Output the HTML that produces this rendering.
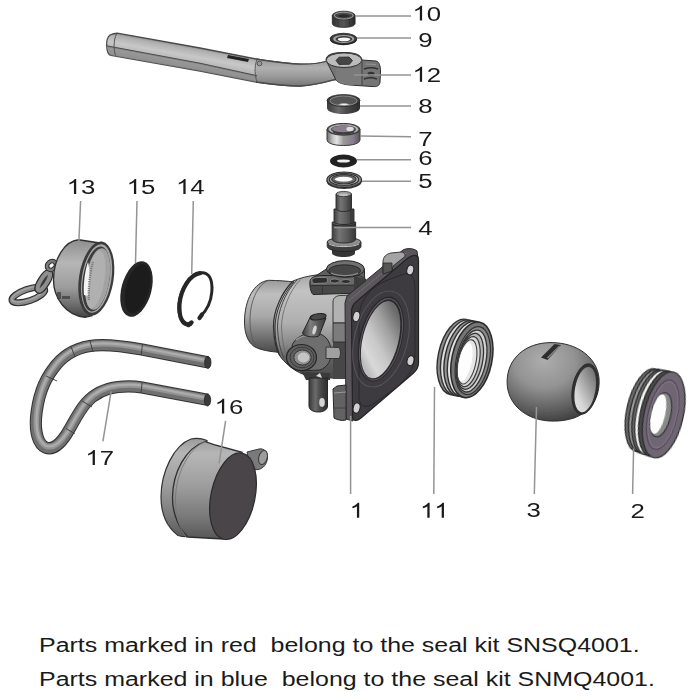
<!DOCTYPE html>
<html><head><meta charset="utf-8">
<style>
html,body{margin:0;padding:0;background:#fff;width:700px;height:700px;overflow:hidden}
svg{display:block}
.lb{font-family:"Liberation Sans",sans-serif;font-size:20.8px;fill:#1a1a1a}
.ld{stroke:#949494;stroke-width:1.5;fill:none}
</style></head><body>
<svg width="700" height="700" viewBox="0 0 700 700">

<rect width="700" height="700" fill="#fff"/>


<defs>
<linearGradient id="gHandle" gradientUnits="userSpaceOnUse" x1="0" y1="-11" x2="0" y2="11">
 <stop offset="0" stop-color="#9a9a9a"/><stop offset="0.25" stop-color="#c9c9c9"/><stop offset="0.55" stop-color="#b5b5b5"/><stop offset="0.6" stop-color="#8e8e8e"/><stop offset="1" stop-color="#6a6a6a"/>
</linearGradient>
<linearGradient id="gCylV" x1="0" y1="0" x2="0" y2="1">
 <stop offset="0" stop-color="#8f8f8f"/><stop offset="0.3" stop-color="#c4c4c4"/><stop offset="0.7" stop-color="#9a9a9a"/><stop offset="1" stop-color="#5c5c5c"/>
</linearGradient>
<linearGradient id="gDarkV" x1="0" y1="0" x2="0" y2="1">
 <stop offset="0" stop-color="#555"/><stop offset="0.5" stop-color="#3e3e3e"/><stop offset="1" stop-color="#2a2a2a"/>
</linearGradient>
<linearGradient id="gDarkH" x1="0" y1="0" x2="1" y2="0">
 <stop offset="0" stop-color="#3a3a3a"/><stop offset="0.35" stop-color="#6a6a6a"/><stop offset="0.6" stop-color="#4a4a4a"/><stop offset="1" stop-color="#2e2e2e"/>
</linearGradient>
<linearGradient id="gLightH" x1="0" y1="0" x2="1" y2="0">
 <stop offset="0" stop-color="#8a8a8a"/><stop offset="0.3" stop-color="#e8e8e8"/><stop offset="0.6" stop-color="#c8c8c8"/><stop offset="1" stop-color="#7a7a7a"/>
</linearGradient>
<radialGradient id="gBall" cx="0.42" cy="0.28" r="0.82" fx="0.4" fy="0.22">
 <stop offset="0" stop-color="#adadad"/><stop offset="0.4" stop-color="#939393"/><stop offset="0.72" stop-color="#606060"/><stop offset="1" stop-color="#303030"/>
</radialGradient>
<linearGradient id="gBallBore" x1="0.8" y1="0" x2="0.2" y2="1">
 <stop offset="0" stop-color="#6a6a6a"/><stop offset="0.35" stop-color="#9a9a9a"/><stop offset="0.75" stop-color="#d6d6d6"/><stop offset="1" stop-color="#e2e2e2"/>
</linearGradient>
<linearGradient id="gBore2" x1="0" y1="0" x2="1" y2="0">
 <stop offset="0" stop-color="#444"/><stop offset="0.3" stop-color="#9a9a9a"/><stop offset="0.6" stop-color="#e0e0e0"/><stop offset="0.85" stop-color="#c0c0c0"/><stop offset="1" stop-color="#888"/>
</linearGradient>
<linearGradient id="gBodyU" gradientUnits="userSpaceOnUse" x1="0" y1="275" x2="0" y2="380">
 <stop offset="0" stop-color="#a8a8a8"/><stop offset="0.15" stop-color="#c2c2c2"/><stop offset="0.45" stop-color="#b0b0b0"/><stop offset="0.65" stop-color="#8a8a8a"/><stop offset="0.8" stop-color="#606060"/><stop offset="1" stop-color="#484848"/>
</linearGradient>
<linearGradient id="gPipe" gradientUnits="userSpaceOnUse" x1="0" y1="280" x2="0" y2="353">
 <stop offset="0" stop-color="#9a9a9a"/><stop offset="0.2" stop-color="#bebebe"/><stop offset="0.5" stop-color="#a8a8a8"/><stop offset="0.75" stop-color="#777"/><stop offset="1" stop-color="#4a4a4a"/>
</linearGradient>
<linearGradient id="gBore3" x1="0.7" y1="0.1" x2="0.3" y2="0.9">
 <stop offset="0" stop-color="#6a6a6a"/><stop offset="0.3" stop-color="#a0a0a0"/><stop offset="0.6" stop-color="#c8c8c8"/><stop offset="0.85" stop-color="#d8d8d8"/><stop offset="1" stop-color="#bdbdbd"/>
</linearGradient>
<linearGradient id="gStem" x1="0" y1="0" x2="1" y2="0">
 <stop offset="0" stop-color="#404040"/><stop offset="0.3" stop-color="#747474"/><stop offset="0.6" stop-color="#5e5e5e"/><stop offset="1" stop-color="#363636"/>
</linearGradient>
<linearGradient id="gCap2" gradientUnits="userSpaceOnUse" x1="0" y1="438" x2="0" y2="542">
 <stop offset="0" stop-color="#9a9a9a"/><stop offset="0.15" stop-color="#b6b6b6"/><stop offset="0.45" stop-color="#9e9e9e"/><stop offset="0.75" stop-color="#7a7a7a"/><stop offset="1" stop-color="#525252"/>
</linearGradient>
<linearGradient id="gHandleL" gradientUnits="userSpaceOnUse" x1="164" y1="41" x2="160" y2="63.5">
 <stop offset="0" stop-color="#8e8e8e"/><stop offset="0.15" stop-color="#b0b0b0"/><stop offset="0.45" stop-color="#c8c8c8"/><stop offset="0.7" stop-color="#b8b8b8"/><stop offset="1" stop-color="#999"/>
</linearGradient>
<linearGradient id="gHandleR" gradientUnits="userSpaceOnUse" x1="0" y1="62" x2="0" y2="86">
 <stop offset="0" stop-color="#a0a0a0"/><stop offset="0.25" stop-color="#b0b0b0"/><stop offset="0.6" stop-color="#9a9a9a"/><stop offset="1" stop-color="#777"/>
</linearGradient>
<linearGradient id="gPin" x1="0" y1="0" x2="1" y2="0">
 <stop offset="0" stop-color="#3e3e3e"/><stop offset="0.35" stop-color="#7e7e7e"/><stop offset="0.7" stop-color="#555"/><stop offset="1" stop-color="#3a3a3a"/>
</linearGradient>
<linearGradient id="gRing" x1="0" y1="0" x2="0" y2="1">
 <stop offset="0" stop-color="#8e8e8e"/><stop offset="0.3" stop-color="#b6b6b6"/><stop offset="0.62" stop-color="#9c9c9c"/><stop offset="0.85" stop-color="#6a6a6a"/><stop offset="1" stop-color="#444"/>
</linearGradient>
<linearGradient id="gBear" x1="0" y1="0" x2="1" y2="0">
 <stop offset="0" stop-color="#6e6e6e"/><stop offset="0.18" stop-color="#c4c4c4"/><stop offset="0.3" stop-color="#e4e4e4"/><stop offset="0.5" stop-color="#9a9a9a"/><stop offset="0.8" stop-color="#867b8b"/><stop offset="1" stop-color="#555"/>
</linearGradient>
<linearGradient id="gNut" x1="0" y1="0" x2="1" y2="0">
 <stop offset="0" stop-color="#2e2e2e"/><stop offset="0.25" stop-color="#4a4a4a"/><stop offset="0.5" stop-color="#555"/><stop offset="0.75" stop-color="#3e3e3e"/><stop offset="1" stop-color="#2a2a2a"/>
</linearGradient>
<filter id="soft" x="-2%" y="-2%" width="104%" height="104%"><feGaussianBlur stdDeviation="0.45"/></filter>
<linearGradient id="gBore" x1="0" y1="0" x2="1" y2="0">
 <stop offset="0" stop-color="#555"/><stop offset="0.25" stop-color="#9a9a9a"/><stop offset="0.55" stop-color="#e6e6e6"/><stop offset="0.8" stop-color="#b0b0b0"/><stop offset="1" stop-color="#666"/>
</linearGradient>
<linearGradient id="gCap" x1="0" y1="0" x2="0" y2="1">
 <stop offset="0" stop-color="#a8a8a8"/><stop offset="0.3" stop-color="#c6c6c6"/><stop offset="0.7" stop-color="#9a9a9a"/><stop offset="1" stop-color="#5a5a5a"/>
</linearGradient>
<linearGradient id="gBody" x1="0" y1="0" x2="0" y2="1">
 <stop offset="0" stop-color="#a0a0a0"/><stop offset="0.25" stop-color="#c2c2c2"/><stop offset="0.6" stop-color="#adadad"/><stop offset="0.85" stop-color="#6a6a6a"/><stop offset="1" stop-color="#444"/>
</linearGradient>
<linearGradient id="gWire" gradientUnits="userSpaceOnUse" x1="0" y1="340" x2="0" y2="450">
 <stop offset="0" stop-color="#8a8a8a"/><stop offset="1" stop-color="#777"/>
</linearGradient>
</defs>

<g filter="url(#soft)">
<!-- ===== Handle (12) ===== -->
<g id="handle">
 <path d="M118.6 33.3 L200 48 L256 59 C275 62 290 64 300 64.2 C312 64.4 322 63 332 60 L337 79 C326 82 315 85.5 300 86 C288 86 270 84 256 82 L200 71 L111 55.3 C106 54.5 104.8 39 110 35 C113 33.5 115 33 118.6 33.3 Z" fill="url(#gHandleL)" stroke="#4a4a4a" stroke-width="1.3"/>
 <path d="M257.5 59.3 C275 62 290 64 300 64.2 C312 64.4 322 63 332 60 L337 79 C326 82 315 85.5 300 86 C288 86 270 84 257.5 82 C255.5 75 255.5 66 257.5 59.3 Z" fill="url(#gHandleR)"/>
 <path d="M256 59 C275 62 290 64 300 64.2 C312 64.4 322 63 332 60 M337 79 C326 82 315 85.5 300 86 C288 86 270 84 256 82" fill="none" stroke="#4a4a4a" stroke-width="1.3"/>
 <path d="M106 46 L200 63.5 L257 76" fill="none" stroke="#444" stroke-width="1.3"/>
 <path d="M106 46 L200 63.5 L257 76 L256 82 L200 71 L111 55.3 Z" fill="#8c8c8c" opacity="0.7"/>
 <path d="M116.5 34 C113.5 40 113.5 49 115.5 55.5" fill="none" stroke="#555" stroke-width="1"/>
 <path d="M257 59.5 C254 67 255 76 257 82" fill="none" stroke="#555" stroke-width="1"/>
 <circle cx="259.5" cy="63.5" r="2.3" fill="#9a9a9a" stroke="#444" stroke-width="0.8"/>
 <path d="M228 55 L249 59 L248 62 L227 58 Z" fill="#222"/>
 <!-- head -->
 <path d="M326 60 C326 54 334 52.5 344 52.5 C356 52.5 361.5 55 362 60 L376 61 C379.5 62 380.5 66 380.5 72 L380 82 C379.5 86 377 87 372 86.5 L350 85 C344 84.5 338 83 336 80 Z" fill="#757575" stroke="#2e2e2e" stroke-width="1"/>
 <path d="M336 66 C340 70 350 70 362 66 L362 84.5 L350 85 C344 84.5 338 83 336 80 Z" fill="#7a7a7a"/>
 <path d="M362 61 L362 85" stroke="#3a3a3a" stroke-width="0.9"/>
 <ellipse cx="344" cy="60.2" rx="17.8" ry="7.3" fill="#bcbcbc" stroke="#333" stroke-width="1"/>
 <path d="M336 60.5 L339 57.2 L349 57 L352.5 60.5 L349.5 64.3 L339 64.5 Z" fill="#444" stroke="#2a2a2a" stroke-width="0.8"/>
 <path d="M364 69 C368 67.5 374 67.5 378 69" fill="none" stroke="#333" stroke-width="1.6"/>
 <path d="M364 79 C368 77.5 373 77.5 377 79" fill="none" stroke="#333" stroke-width="1.6"/>
 <ellipse cx="371" cy="74" rx="3.5" ry="2.2" fill="#333"/>
 <path d="M366 64 L376 64.5" stroke="#999" stroke-width="0.8"/>
</g>

<!-- ===== Nut (10) ===== -->
<g id="p10">
 <path d="M332.3 15.5 L332.3 23.3 C332.3 26 337 27.4 343.7 27.4 C350.4 27.4 355.1 26 355.1 23.3 L355.1 15.5 Z" fill="url(#gNut)" stroke="#2a2a2a" stroke-width="0.8"/>
 <ellipse cx="343.7" cy="15.5" rx="11.4" ry="4.3" fill="#454545" stroke="#2a2a2a" stroke-width="0.8"/>
 <ellipse cx="343.7" cy="15.6" rx="9.3" ry="3.3" fill="#3a3a3a" stroke="#9c9c9c" stroke-width="1.1"/>
 <ellipse cx="343.7" cy="15.9" rx="6.6" ry="2.2" fill="#2a2a2a" stroke="#666" stroke-width="0.7"/>
 <path d="M338 19.5 V26.8 M349.5 19.5 V26.8" stroke="#2e2e2e" stroke-width="0.8"/>
</g>

<!-- ===== Washer (9) ===== -->
<g id="p9">
 <ellipse cx="343.5" cy="39.8" rx="13.4" ry="5.4" fill="#2a2a2a"/>
 <ellipse cx="343.5" cy="38.7" rx="13.4" ry="5.4" fill="#3a3a3a" stroke="#222" stroke-width="0.8"/>
 <ellipse cx="343.7" cy="38.9" rx="10.6" ry="4" fill="#a4a4a4"/>
 <ellipse cx="343.9" cy="39.1" rx="8.4" ry="3" fill="#3a3a3a"/>
 <ellipse cx="344" cy="39.3" rx="6.3" ry="1.9" fill="#f6f6f6"/>
</g>

<!-- ===== Bushing (8) ===== -->
<g id="p8">
 <path d="M327 100.5 V108 C327 111.5 334 114 343.5 114 C353 114 360 111.5 360 108 V100.5 Z" fill="url(#gDarkH)"/>
 <ellipse cx="343.5" cy="100.5" rx="16.5" ry="6" fill="#3c3c3c" stroke="#2a2a2a" stroke-width="0.8"/>
 <ellipse cx="343.5" cy="100.8" rx="13.6" ry="4.8" fill="#555" stroke="#8a8a8a" stroke-width="1"/>
 <path d="M338 104.3 C341 105.4 347 105.4 350 104.3 C347 103.2 341 103.2 338 104.3Z" fill="#f2f2f2"/>
</g>

<!-- ===== Bearing (7) ===== -->
<g id="p7">
 <path d="M327 129.3 V139.7 C327 143.3 334 145.5 343.5 145.5 C353 145.5 360 143.3 360 139.7 V129.3 Z" fill="url(#gBear)" stroke="#3a3a3a" stroke-width="1"/>
 <ellipse cx="343.5" cy="129.3" rx="16.5" ry="5.9" fill="#5a5a5a" stroke="#333" stroke-width="1"/>
 <ellipse cx="343.5" cy="129.3" rx="14.6" ry="5" fill="#b4b4b4"/>
 <ellipse cx="343.5" cy="129.5" rx="12.4" ry="4.1" fill="#3e3e3e"/>
 <ellipse cx="343.3" cy="129" rx="11.4" ry="3.3" fill="#8a7f8f"/>
 <ellipse cx="350" cy="129" rx="3.6" ry="2.2" fill="#e8e8e8" opacity="0.9"/>
 <path d="M333 131 C337 133.5 350 133.5 354 131 L354 132.5 C350 135 337 135 333 132.5 Z" fill="#3a3a3a"/>
</g>

<!-- ===== O-ring (6) ===== -->
<g id="p6">
 <ellipse cx="343.5" cy="161" rx="13.5" ry="6.4" fill="#242424"/>
 <ellipse cx="343.5" cy="161" rx="6.6" ry="1.6" fill="#f0f0f0"/>
</g>

<!-- ===== Seal (5) ===== -->
<g id="p5">
 <ellipse cx="344.2" cy="181.2" rx="17.6" ry="7.8" fill="#3a3a3a"/>
 <ellipse cx="344.2" cy="179.8" rx="17.3" ry="7.8" fill="#8e8e8e" stroke="#2e2e2e" stroke-width="1.2"/>
 <ellipse cx="344" cy="179.5" rx="14.6" ry="6.1" fill="#c4c4c4" stroke="#333" stroke-width="1.3"/>
 <ellipse cx="343.9" cy="179.3" rx="12.2" ry="4.7" fill="#6a6a6a" stroke="#333" stroke-width="1.1"/>
 <ellipse cx="343.7" cy="179.2" rx="9.4" ry="2.9" fill="#fafafa" stroke="#555" stroke-width="0.8"/>
 <path d="M330 183.5 C336 187 352 187 358 183.5" fill="none" stroke="#555" stroke-width="1"/>
</g>

<!-- ===== Stem (4) ===== -->
<g id="p4">
 <path d="M332 246 V253 C332 255.5 338 257 343.5 257 C349 257 355 255.5 355 253 V246 Z" fill="#353535"/>
 <path d="M327.2 242 V246.5 C327.2 249.5 335 251.5 344 251.5 C353 251.5 361 249.5 361 246.5 V242 Z" fill="#3c3c3c" stroke="#222" stroke-width="0.8"/>
 <ellipse cx="344.1" cy="242" rx="16.9" ry="4.6" fill="#8e8e8e" stroke="#2a2a2a" stroke-width="0.9"/>
 <path d="M329 244 C334 247.5 354 247.5 359 244" fill="none" stroke="#c8c8c8" stroke-width="1"/>
 <path d="M332.2 222 V239 C332.2 241.5 337.5 243 344 243 C350.5 243 355.6 241.5 355.6 239 V222 Z" fill="url(#gStem)" stroke="#262626" stroke-width="0.9"/>
 <path d="M332.4 224.5 C336 226.5 352 226.5 355.4 224.5" fill="none" stroke="#2a2a2a" stroke-width="1.4"/>
 <path d="M334 209 V221.5 C334 223.5 338.5 224.5 344 224.5 C349.5 224.5 354 223.5 354 221.5 V209 Z" fill="url(#gStem)" stroke="#262626" stroke-width="0.9"/>
 <path d="M350 210 L353.5 211 L353.5 223 L350 223.5 Z" fill="#3a3a3a"/>
 <path d="M336 194 V208.5 C336 210.5 340 211.5 343.8 211.5 C347.6 211.5 351.5 210.5 351.5 208.5 V194 Z" fill="url(#gStem)" stroke="#262626" stroke-width="0.9"/>
 <ellipse cx="343.8" cy="194" rx="7.7" ry="2.6" fill="#9a9a9a" stroke="#2e2e2e" stroke-width="0.8"/>
 <ellipse cx="343.5" cy="194.8" rx="4.6" ry="1.4" fill="#c0c0c0"/>
</g>

<!-- ===== Body (1) ===== -->
<g id="body">
 <!-- main body -->
 <path d="M293 281 C300 278 308 276 316 275 L350 274 L352 300 L352 378 L330 378 L309 376 C300 374 292 369 286 363 C279 357 275 348 274 338 C273 320 278 296 293 281 Z" fill="url(#gBodyU)" stroke="#333" stroke-width="1"/>
 <!-- left pipe -->
 <path d="M268.6 280.3 C278 280.5 287 281 294 282 C282 295 275 312 275 328 C275 338 276.5 346 279 352.5 C278 352.5 277 352.2 275.7 352 C266 351 258 349 254 346.4 C248 342 244.5 334 244.5 322 C244.5 300 254 282 268.6 280.3 Z" fill="url(#gPipe)" stroke="#333" stroke-width="1"/>
 <path d="M268.6 280.3 C257 285 250 302 250 320 C250 335 253 343 258 348" fill="none" stroke="#5a5a5a" stroke-width="0.9"/>
 <!-- step rings between pipe and body -->
 <path d="M293 281 C281 293 273 312 273.5 327 C274 340 276 350 280 356" fill="none" stroke="#2e2e2e" stroke-width="1.2"/>
 <path d="M297 280 C285 292 277.5 312 277.5 327 C278 340 280 350 284 358" fill="none" stroke="#444" stroke-width="1"/>
 <path d="M300.5 279.5 C289 291 281.5 312 281.5 327 C282 340 284 350 288 361" fill="none" stroke="#666" stroke-width="0.8"/>
 <!-- neck (light) left of flange -->
 <path d="M333 342 L352 342 L352 379 L333 379 Z" fill="#474747"/>
 <path d="M333 302 C333 298 336 295.5 341 295.5 L352 295 L352 323 L333 323 Z" fill="#b2b2b2" stroke="#2e2e2e" stroke-width="0.9"/>
 <path d="M333 323 L352 323 L352 342 L333 342 Z" fill="#7c7c7c" stroke="#2e2e2e" stroke-width="0.9"/>
 <!-- top boss -->
 <path d="M326.4 269 L311 279 L311 283 L364.8 283 L364.4 269 Z" fill="#5e5e5e" stroke="#262626" stroke-width="1"/>
 <path d="M310 281 C311 277 316 275.5 324 275.5 L360 276 L365.5 279 L365 289 L361 293 L313 294.5 C310.5 292 309.5 286 310 281 Z" fill="#4a4a4a" stroke="#262626" stroke-width="1"/>
 <path d="M310.5 280 C312 277 316 276 324 276 L360 276.5 L365 279 L364 285 L311 285.5 Z" fill="#6a6a6a"/>
 <path d="M311 285.5 L364.5 285" stroke="#2e2e2e" stroke-width="1"/>
 <path d="M322.6 285.5 L322.6 294" stroke="#2e2e2e" stroke-width="0.8"/>
 <path d="M312 280 C312 278 316 277.5 320 277.5 L326 277.5 C328 278 328 282 326 283 L314 283.5 C312.5 283 312 282 312 280 Z" fill="#2e2e2e" stroke="#9a9a9a" stroke-width="0.7"/>
 <ellipse cx="334.8" cy="281" rx="4.6" ry="2" fill="#2e2e2e" stroke="#9a9a9a" stroke-width="0.7"/>
 <ellipse cx="345.9" cy="281.5" rx="4.6" ry="2" fill="#2e2e2e" stroke="#9a9a9a" stroke-width="0.7"/>
 <path d="M354 276 L365.5 279 L365 289 L361 293 L354 293.5 Z" fill="#3e3e3e"/>
 <ellipse cx="345.4" cy="269" rx="19" ry="8.4" fill="#707070" stroke="#262626" stroke-width="1"/>
 <ellipse cx="344.6" cy="270.8" rx="16" ry="6" fill="#464646" stroke="#2a2a2a" stroke-width="1"/>
 <path d="M331 273.2 C338 276.4 352 276.4 358 273.2" fill="none" stroke="#8a8a8a" stroke-width="1.4"/>
 <!-- flange side / edge band -->
 <path d="M345 303 L347 296 L403 250 C407 248 413 248 417 251 L418 258 L352 310 L353 421 L346 419 Z" fill="#5a575c" stroke="#2a2a2a" stroke-width="1"/>
 <path d="M349 300.5 L407 252.5" stroke="#888" stroke-width="1" stroke-dasharray="1 1.2"/>
 <!-- flange top tab -->
 <path d="M383 262 C383 257 386 254 391 253 L401 252 C404 252 405.5 254 405 256.5 L393 266 L392 271 L383 274 Z" fill="#a4a4a4" stroke="#2a2a2a" stroke-width="0.9"/>
 <path d="M383 263 L392 263 L392 271 L383 274 Z" fill="#555" stroke="#2a2a2a" stroke-width="0.8"/>
 <!-- lower-left tab -->
 <path d="M333 389 L337 386 L346 385 L346 420 C342 421 337 420 334 418 Z" fill="#626262" stroke="#262626" stroke-width="1"/>
 <path d="M334 393 L346 392" stroke="#999" stroke-width="1.1"/>
 <path d="M334 408 L346 408" stroke="#3a3a3a" stroke-width="0.8"/>
 <!-- flange front face -->
 <path d="M351.5 312 C351.5 307 353 304 357 301 L408 258 C413 254 418.5 254.5 418.5 260 L418.5 363 C418.5 367 417 370 413 373.5 L361 418 C356 422 352.5 421 352.5 415.5 Z" fill="#3d3a3f" stroke="#242424" stroke-width="1.2"/>
 <path d="M359 318 C359 300 372 286 388 280 L404 274 C412 272 415 278 415 290 L415 352 C415 366 410 376 398 386 L376 402 C366 409 359 408 359 396 Z" fill="none" stroke="#2a282c" stroke-width="1"/>
 <ellipse cx="381" cy="339" rx="26.5" ry="49" transform="rotate(14 381 339)" fill="none" stroke="#56525a" stroke-width="1.1"/>
 <!-- bore -->
 <ellipse cx="380.8" cy="339" rx="21.2" ry="43.6" transform="rotate(14 380.8 339)" fill="#2a282c"/>
 <ellipse cx="381" cy="339.3" rx="19.6" ry="41.6" transform="rotate(14 381 339.3)" fill="none" stroke="#5e5a62" stroke-width="1"/>
 <ellipse cx="380.6" cy="339.6" rx="17.8" ry="39.6" transform="rotate(14 380.6 339.6)" fill="url(#gBore3)"/>
 <!-- bolt holes -->
 <ellipse cx="410.3" cy="270" rx="3.4" ry="5" transform="rotate(14 410.3 270)" fill="#d0d0d0" stroke="#1e1e1e" stroke-width="1"/>
 <ellipse cx="356.4" cy="316.5" rx="3.4" ry="5.2" transform="rotate(14 356.4 316.5)" fill="#d0d0d0" stroke="#1e1e1e" stroke-width="1"/>
 <ellipse cx="410.5" cy="360.7" rx="3.4" ry="5" transform="rotate(14 410.5 360.7)" fill="#d0d0d0" stroke="#1e1e1e" stroke-width="1"/>
 <ellipse cx="356.6" cy="408" rx="3.4" ry="5.2" transform="rotate(14 356.6 408)" fill="#d0d0d0" stroke="#1e1e1e" stroke-width="1"/>
 <!-- side boss dome -->
 <path d="M292 346 C294 338 304 333 314 333 C324 333 330 340 331 350 C332 360 328 367 320 370 L300 371 Z" fill="#6e6e6e" stroke="#2a2a2a" stroke-width="1"/>
 <path d="M296 340 C302 335 312 334 320 336" fill="none" stroke="#999" stroke-width="1.2"/>
 <!-- stop pin -->
 <path d="M310.5 316.5 L302.5 333 C303 336.5 314 338 319 336 L326 318 Z" fill="url(#gPin)" stroke="#262626" stroke-width="1"/>
 <ellipse cx="318.2" cy="316.8" rx="8" ry="3" transform="rotate(-8 318.2 316.8)" fill="#4a4a4a" stroke="#222" stroke-width="1"/>
 <ellipse cx="314.5" cy="330" rx="1.8" ry="4.6" transform="rotate(15 314.5 330)" fill="#d4d4d4"/>
 <!-- boss stub right -->
 <path d="M326 347 L339 347.5 C341 350 341 356 339 358.5 L326 358.5 Z" fill="#a0a0a0" stroke="#2e2e2e" stroke-width="0.9"/>
 <!-- boss ring -->
 <ellipse cx="301.5" cy="357.5" rx="15" ry="13" fill="#5e5e5e" stroke="#262626" stroke-width="1.2"/>
 <ellipse cx="302" cy="357.5" rx="12" ry="10.3" fill="none" stroke="#3a3a3a" stroke-width="1"/>
 <ellipse cx="302.5" cy="357.5" rx="8.7" ry="7.6" fill="#8e8e8e" stroke="#333" stroke-width="1"/>
 <ellipse cx="303.5" cy="357.5" rx="5.8" ry="5" fill="#c4c4c4"/>
 <!-- lower pin -->
 <path d="M302 372 L330 373 L330 380 L306 380 Z" fill="#3a3a3a"/>
 <path d="M309 378 L327.5 378 L327.5 406 C327.5 410 323 412 318.5 412 C313.5 412 309 410 309 406 Z" fill="url(#gDarkH)" stroke="#262626" stroke-width="1"/>
 <ellipse cx="322" cy="402.5" rx="2.8" ry="4.4" fill="#d4d4d4"/>
 <path d="M316 376 L320 373 L322 378 Z" fill="#ddd"/>
</g>

<!-- ===== Coupling (13) with chain ===== -->
<g id="p13">
 <!-- chain link (lower) -->
 <ellipse cx="28.3" cy="295" rx="17.2" ry="5.8" transform="rotate(-19 28.3 295)" fill="none" stroke="#2e2e2e" stroke-width="7"/>
 <ellipse cx="28.3" cy="295" rx="17.2" ry="5.8" transform="rotate(-19 28.3 295)" fill="none" stroke="#8a8a8a" stroke-width="4.6"/>
 <ellipse cx="28.1" cy="294.2" rx="17.2" ry="5.8" transform="rotate(-19 28.1 294.2)" fill="none" stroke="#a6a6a6" stroke-width="1.4"/>
 <!-- chain link (middle) -->
 <ellipse cx="43.8" cy="281.5" rx="10.5" ry="3.2" transform="rotate(-58 43.8 281.5)" fill="#3a3a3a" stroke="#2e2e2e" stroke-width="6.4"/>
 <ellipse cx="43.8" cy="281.5" rx="10.5" ry="3.2" transform="rotate(-58 43.8 281.5)" fill="#3a3a3a" stroke="#8e8e8e" stroke-width="4"/>
 <!-- chain link (top) -->
 <ellipse cx="51.5" cy="265.5" rx="4.8" ry="4" transform="rotate(-40 51.5 265.5)" fill="none" stroke="#2e2e2e" stroke-width="4.6"/>
 <ellipse cx="51.5" cy="265.5" rx="4.8" ry="4" transform="rotate(-40 51.5 265.5)" fill="none" stroke="#7a7a7a" stroke-width="2.6"/>
 <!-- ring body -->
 <path d="M78.6 239.8 L101 243.2 L92 315.6 L85 317.2 C66 315.5 53.5 298 53.5 280 C53.5 258 65 241 78.6 239.8 Z" fill="url(#gRing)" stroke="#333" stroke-width="1.4"/>
 <ellipse cx="96.3" cy="278.5" rx="17.3" ry="37.4" transform="rotate(9 96.3 278.5)" fill="#3a3a3a"/>
 <ellipse cx="96.6" cy="278.5" rx="14.8" ry="34.6" transform="rotate(9 96.6 278.5)" fill="#a8a8a8"/>
 <ellipse cx="96.2" cy="279" rx="13.3" ry="32.8" transform="rotate(9 96.2 279)" fill="#3c3c3c"/>
 <ellipse cx="97.6" cy="279" rx="11.8" ry="31.2" transform="rotate(9 97.6 279)" fill="#a2a2a2"/>
 <ellipse cx="95.5" cy="279.5" rx="9" ry="29" transform="rotate(9 95.5 279.5)" fill="#b0b0b0"/>
 <path d="M84 295 C83 285 85 270 88 262 C90 268 90 284 88 296 Z" fill="#f4f4f4"/>
 <path d="M89 300 C88 290 90 272 93 262" fill="none" stroke="#777" stroke-width="2.2" stroke-dasharray="1.2 1"/>
 <path d="M57 292 h4 v7 h-4z M62 296 h8 v3 h-8z" fill="#444" opacity="0.8"/>
</g>

<!-- ===== Gasket (15) ===== -->
<g id="p15">
 <ellipse cx="136.5" cy="289" rx="15" ry="28.5" transform="rotate(15 136.5 289)" fill="#262626"/>
 <ellipse cx="137.5" cy="288.5" rx="11.5" ry="25" transform="rotate(15 137.5 288.5)" fill="#1a1a1a"/>
</g>

<!-- ===== Circlip (14) ===== -->
<g id="p14" fill="none" stroke="#262626" stroke-linecap="round">
 <path d="M190.5 324.5 C182 325 178 316 179 304 C180.5 289 190 273.5 201 272.8 C209.5 272.2 212.8 280 211.8 292 C211 302 206 311 200.5 316.5" stroke-width="3"/>
 <path d="M188 324.6 C181.5 323.5 179 315 179.5 304 C181 289 190 274.5 200 273.2" stroke-width="4.2"/>
 <path d="M188.5 325 L191.5 322.5" stroke-width="4.4"/>
 <path d="M199.5 318 L202 314.5" stroke-width="4.2"/>
</g>

<!-- ===== Wire (17) ===== -->
<g id="p17" fill="none" stroke-linejoin="round">
 <path d="M207.5 362.3 L142 349.6 C125 346.5 105 343.5 90 346 C75 348.5 62 356 53 369 C43 382 37.5 400 36 418 C35 432 38 444 45.5 447.5 C53 450.5 60 444 66 435 C72 426 78 412 86 403 C94 394 104 388.5 118 387 C128 386 136 386.5 142 387.5 L207.5 399.8" stroke="#333" stroke-width="12.2"/>
 <path d="M207.5 362.3 L142 349.6 C125 346.5 105 343.5 90 346 C75 348.5 62 356 53 369 C43 382 37.5 400 36 418 C35 432 38 444 45.5 447.5 C53 450.5 60 444 66 435 C72 426 78 412 86 403 C94 394 104 388.5 118 387 C128 386 136 386.5 142 387.5 L207.5 399.8" stroke="#707070" stroke-width="10.2"/>
 <path d="M207.5 362.3 L142 349.6 C125 346.5 105 343.5 90 346 C75 348.5 62 356 53 369 C43 382 37.5 400 36 418 C35 432 38 444 45.5 447.5 C53 450.5 60 444 66 435 C72 426 78 412 86 403 C94 394 104 388.5 118 387 C128 386 136 386.5 142 387.5 L207.5 399.8" stroke="#949494" stroke-width="5.5" transform="translate(0.4,-1.4)"/>
 <path d="M207.5 362.3 L142 349.6 C125 346.5 105 343.5 90 346 C75 348.5 62 356 53 369 C43 382 37.5 400 36 418 C35 432 38 444 45.5 447.5 C53 450.5 60 444 66 435 C72 426 78 412 86 403 C94 394 104 388.5 118 387 C128 386 136 386.5 142 387.5 L207.5 399.8" stroke="#acacac" stroke-width="2.2" transform="translate(0.6,-1.8)"/>
 <path d="M142.5 344 L141.2 355 M142.2 382 L141 393 M71 346.5 L75 357 M90 341 L93 352 M82 401 L92 407 M66 428.5 L74.7 433.6 M46 376 L57 381" stroke="#3a3a3a" stroke-width="0.9"/>
 <ellipse cx="207.8" cy="362.5" rx="3.2" ry="6" fill="#3a3a3a" stroke="#222" stroke-width="0.8"/>
 <ellipse cx="207.5" cy="400" rx="3.2" ry="6" fill="#3a3a3a" stroke="#222" stroke-width="0.8"/>
</g>

<!-- ===== Cap (16) ===== -->
<g id="p16">
 <!-- knob -->
 <path d="M247 452 L259 449 C264 448 268 452 267.5 458 C267 464 263 469 258 469.5 L251 470 Z" fill="#7a7a7a" stroke="#3a3a3a" stroke-width="1"/>
 <ellipse cx="263" cy="457.5" rx="4.2" ry="7.2" transform="rotate(15 263 457.5)" fill="#9c9c9c" stroke="#3a3a3a" stroke-width="1"/>
 <!-- flange -->
 <path d="M191 439 C196 438 202 438.5 207 440.5 L193 536 C188 537 183 537 178 535.5 C167 527 161 514 161 497 C161 472 174 445 191 439 Z" fill="url(#gCap2)" stroke="#333" stroke-width="1.2"/>
 <!-- body -->
 <path d="M205 441.5 L214 444.6 L242 452.3 L223 539 L188 537 C180 530 172.5 515 172.5 498 C172.5 472 186 448 205 441.5 Z" fill="url(#gCap2)" stroke="#2e2e2e" stroke-width="1.3"/>
 <path d="M205 441.5 C190 448 176 472 175.5 498 C175 516 180 530 187 538" fill="none" stroke="#777" stroke-width="0.9"/>
 <!-- dark face -->
 <ellipse cx="233" cy="496.2" rx="22" ry="44" transform="rotate(12 233 496.2)" fill="#4a444a" stroke="#2a2a2a" stroke-width="1.2"/>
</g>

<!-- ===== Seat (11) ===== -->
<g id="p11" transform="translate(0,1.6) rotate(12 466 357)">
 <ellipse cx="458" cy="357" rx="20" ry="38.4" fill="#8a8a8a" stroke="#2e2e2e" stroke-width="1.4"/>
 <ellipse cx="461.5" cy="357" rx="20" ry="38.4" fill="#dedede" stroke="#333" stroke-width="1.4"/>
 <ellipse cx="465" cy="357" rx="20" ry="38.4" fill="#959595" stroke="#2e2e2e" stroke-width="1.4"/>
 <ellipse cx="468.5" cy="357" rx="20" ry="38.4" fill="#e2e2e2" stroke="#333" stroke-width="1.4"/>
 <ellipse cx="472" cy="357" rx="20" ry="38.4" fill="#747474" stroke="#2a2a2a" stroke-width="1.5"/>
 <ellipse cx="473" cy="357.5" rx="16.5" ry="34.5" fill="#8a8a8a" stroke="#333" stroke-width="1.2"/>
 <ellipse cx="472" cy="358.2" rx="14.2" ry="31.5" fill="#d0d0d0" stroke="#333" stroke-width="1.3"/>
 <ellipse cx="470.6" cy="358.8" rx="12.3" ry="28.5" fill="#b8b8b8" stroke="#333" stroke-width="1.3"/>
 <ellipse cx="469.2" cy="359.4" rx="10.5" ry="25.5" fill="#d8d8d8" stroke="#3a3a3a" stroke-width="1.2"/>
 <ellipse cx="467.8" cy="360" rx="8.8" ry="22.5" fill="#e6e6e6" stroke="#444" stroke-width="1.1"/>
 <ellipse cx="466" cy="360.5" rx="6.4" ry="19.5" fill="#fdfdfd"/>
</g>

<!-- ===== Ball (3) ===== -->
<g id="p3">
 <path d="M551 342.6 C578 342.6 597 358 599 378 C600.5 398 590 412 574 418 C566 420.5 560 421.1 553 421.1 C526 421.1 507 404 507.1 382 C507.1 358 526 342.6 551 342.6 Z" fill="url(#gBall)" stroke="#2e2e2e" stroke-width="1"/>
 <ellipse cx="585" cy="389" rx="12.6" ry="25.5" transform="rotate(10 585 389)" fill="#333" stroke="#222" stroke-width="0.8"/>
 <ellipse cx="585.2" cy="389.6" rx="10.2" ry="23" transform="rotate(10 585.2 389.6)" fill="url(#gBallBore)"/>
 <path d="M541 357.5 L554.5 344 L561 345 L547.5 360 Z" fill="#2e2e2e"/>
 <path d="M547.5 358 L559.5 345.8" stroke="#8a8a8a" stroke-width="1.2"/>
</g>

<!-- ===== Seat (2) ===== -->
<g id="p2" transform="translate(1,0.6) rotate(13 655 412)">
 <ellipse cx="644.5" cy="412" rx="18.8" ry="42.5" fill="#6e6e6e" stroke="#222" stroke-width="1.2"/>
 <ellipse cx="648" cy="412" rx="18.8" ry="42.8" fill="#9a9a9a" stroke="#2a2a2a" stroke-width="1.4"/>
 <ellipse cx="651.5" cy="412.2" rx="18.8" ry="43.1" fill="#686868" stroke="#222" stroke-width="1.2"/>
 <ellipse cx="654.5" cy="412.3" rx="18.8" ry="43.4" fill="#f4f4f4" stroke="#333" stroke-width="1.3"/>
 <ellipse cx="658.5" cy="412.4" rx="18.8" ry="43.7" fill="#4a4a4a" stroke="#222" stroke-width="1.2"/>
 <ellipse cx="663" cy="412.5" rx="19.5" ry="44" fill="#6f6573" stroke="#2a2a2a" stroke-width="1.2"/>
 <ellipse cx="662" cy="412.5" rx="14.5" ry="35.5" fill="none" stroke="#4e4652" stroke-width="1.2"/>
 <ellipse cx="662.3" cy="412.5" rx="13.5" ry="33.8" fill="none" stroke="#8a8090" stroke-width="0.8"/>
 <ellipse cx="660.2" cy="413" rx="9.8" ry="22.5" fill="#8a8a8a" stroke="#2e2e2e" stroke-width="1.1"/>
 <ellipse cx="657.5" cy="413" rx="7" ry="20.2" fill="#fdfdfd"/>
</g>

</g>
<!-- leader lines -->
<g class="ld">
<path d="M355 16H411"/>
<path d="M357 38H411"/>
<path d="M354 75H411"/>
<path d="M360 105.9H411"/>
<path d="M360 136L411 136.8"/>
<path d="M357 159.8H411"/>
<path d="M362 181.2H411"/>
<path d="M334 227.6H411"/>
<path d="M80.6 201L78.9 241"/>
<path d="M137 201L135.5 263"/>
<path d="M193.3 201L191.7 274"/>
<path d="M102.9 441.4L111.1 391.3"/>
<path d="M225.6 420.9L219.1 463.3"/>
<path d="M350.6 416V494"/>
<path d="M434.5 387L433.8 494"/>
<path d="M536.5 407L534.3 494"/>
<path d="M633.6 448.6L632.6 494"/>
</g>

<!-- labels -->
<g class="lb" fill="#1a1a1a">
<path d="M 422.11 20.60 L 419.84 20.60 L 419.84 8.95 Q 419.02 9.58 417.69 10.21 Q 416.37 10.84 415.31 11.15 L 415.31 9.39 Q 417.21 8.67 418.63 7.64 Q 420.06 6.61 420.65 5.65 L 422.11 5.65 Z"/>
<text transform="matrix(1.240,0,0,1,426.84,20.60)">0</text>
<text transform="matrix(1.240,0,0,1,418.20,47.00)">9</text>
<path d="M 422.11 81.70 L 419.84 81.70 L 419.84 70.05 Q 419.02 70.68 417.69 71.31 Q 416.37 71.94 415.31 72.25 L 415.31 70.49 Q 417.21 69.77 418.63 68.74 Q 420.06 67.71 420.65 66.75 L 422.11 66.75 Z"/>
<text transform="matrix(1.240,0,0,1,426.84,81.70)">2</text>
<text transform="matrix(1.240,0,0,1,418.20,112.70)">8</text>
<text transform="matrix(1.240,0,0,1,418.20,146.40)">7</text>
<text transform="matrix(1.240,0,0,1,418.20,164.90)">6</text>
<text transform="matrix(1.240,0,0,1,418.20,187.80)">5</text>
<text transform="matrix(1.240,0,0,1,418.20,235.00)">4</text>
<path d="M 76.21 194.00 L 73.94 194.00 L 73.94 182.35 Q 73.12 182.98 71.79 183.61 Q 70.47 184.24 69.41 184.55 L 69.41 182.79 Q 71.31 182.07 72.73 181.04 Q 74.16 180.01 74.75 179.05 L 76.21 179.05 Z"/>
<text transform="matrix(1.240,0,0,1,80.94,194.00)">3</text>
<path d="M 136.21 194.00 L 133.94 194.00 L 133.94 182.35 Q 133.12 182.98 131.79 183.61 Q 130.47 184.24 129.41 184.55 L 129.41 182.79 Q 131.31 182.07 132.73 181.04 Q 134.16 180.01 134.75 179.05 L 136.21 179.05 Z"/>
<text transform="matrix(1.240,0,0,1,140.94,194.00)">5</text>
<path d="M 185.61 194.00 L 183.34 194.00 L 183.34 182.35 Q 182.52 182.98 181.19 183.61 Q 179.87 184.24 178.81 184.55 L 178.81 182.79 Q 180.71 182.07 182.13 181.04 Q 183.56 180.01 184.15 179.05 L 185.61 179.05 Z"/>
<text transform="matrix(1.240,0,0,1,190.34,194.00)">4</text>
<path d="M 94.91 465.00 L 92.64 465.00 L 92.64 453.35 Q 91.82 453.98 90.49 454.61 Q 89.17 455.24 88.11 455.55 L 88.11 453.79 Q 90.01 453.07 91.43 452.04 Q 92.86 451.01 93.45 450.05 L 94.91 450.05 Z"/>
<text transform="matrix(1.240,0,0,1,99.64,465.00)">7</text>
<path d="M 224.21 413.60 L 221.94 413.60 L 221.94 401.95 Q 221.12 402.58 219.79 403.21 Q 218.47 403.84 217.41 404.15 L 217.41 402.39 Q 219.31 401.67 220.73 400.64 Q 222.16 399.61 222.75 398.65 L 224.21 398.65 Z"/>
<text transform="matrix(1.240,0,0,1,228.94,413.60)">6</text>
<path d="M 359.21 517.80 L 356.94 517.80 L 356.94 506.15 Q 356.12 506.78 354.79 507.41 Q 353.47 508.04 352.41 508.35 L 352.41 506.59 Q 354.31 505.87 355.73 504.84 Q 357.16 503.81 357.75 502.85 L 359.21 502.85 Z"/>
<path d="M 429.61 517.80 L 427.34 517.80 L 427.34 506.15 Q 426.52 506.78 425.19 507.41 Q 423.87 508.04 422.81 508.35 L 422.81 506.59 Q 424.71 505.87 426.13 504.84 Q 427.56 503.81 428.15 502.85 L 429.61 502.85 Z"/>
<path d="M 443.95 517.80 L 441.69 517.80 L 441.69 506.15 Q 440.87 506.78 439.54 507.41 Q 438.21 508.04 437.15 508.35 L 437.15 506.59 Q 439.05 505.87 440.48 504.84 Q 441.90 503.81 442.49 502.85 L 443.95 502.85 Z"/>
<text transform="matrix(1.240,0,0,1,526.60,517.40)">3</text>
<text transform="matrix(1.240,0,0,1,630.60,517.60)">2</text>
</g>

<!-- bottom text -->
<g class="lb">
<text transform="matrix(1.2,0,0,1,39,651.6)" xml:space="preserve">Parts marked in red  belong to the seal kit SNSQ4001.</text>
<text transform="matrix(1.2,0,0,1,39,686.4)" xml:space="preserve">Parts marked in blue  belong to the seal kit SNMQ4001.</text>
</g>

</svg>
</body></html>
